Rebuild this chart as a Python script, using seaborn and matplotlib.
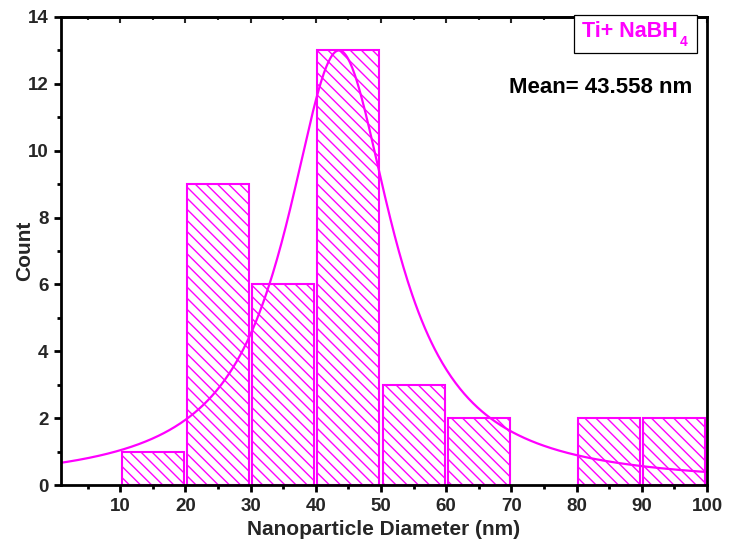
import numpy as np
import pandas as pd
import matplotlib
matplotlib.use("Agg")
import matplotlib.pyplot as plt
import seaborn as sns
from matplotlib.ticker import MultipleLocator
from matplotlib.patches import Rectangle

# Particle size histogram (nm) and Lorentzian fit
bin_edges = [10, 20, 30, 40, 50, 60, 70, 80, 90, 100]
counts = [1, 9, 6, 13, 3, 2, 0, 2, 2]
fit_center = 43.558   # nm
fit_height = 13.0
fit_hwhm = 9.9

MAGENTA = "#ff00ff"

sns.set_theme(style="ticks")
plt.rcParams["font.family"] = ["Liberation Sans", "DejaVu Sans"]
plt.rcParams["font.weight"] = "bold"
plt.rcParams["hatch.linewidth"] = 1.0
plt.rcParams["hatch.color"] = MAGENTA

fig = plt.figure(figsize=(7.4, 5.46), dpi=100)
ax = fig.add_axes([0.0824, 0.1117, 0.8730, 0.8572])

centers = [(a + b) / 2 for a, b in zip(bin_edges[:-1], bin_edges[1:])]
df = pd.DataFrame({"diameter": centers, "count": counts})
sns.histplot(data=df, x="diameter", weights="count", bins=bin_edges,
             shrink=0.95, ax=ax, color=MAGENTA, linewidth=1.5)
for p in ax.patches:
    p.set_facecolor("white")
    p.set_edgecolor(MAGENTA)
    p.set_hatch("\\\\\\")
    p.set_linewidth(1.5)
    if p.get_height() == 0:
        p.set_visible(False)

# Lorentzian fit curve
xf = np.linspace(0, 100, 600)
yf = fit_height / (1 + ((xf - fit_center) / fit_hwhm) ** 2)
sns.lineplot(x=xf, y=yf, ax=ax, color=MAGENTA, linewidth=1.6)

ax.set_xlim(0.9, 100)
ax.set_ylim(0, 14)
ax.set_xticks(range(10, 101, 10))
ax.xaxis.set_minor_locator(MultipleLocator(5))
ax.yaxis.set_major_locator(MultipleLocator(2))
ax.yaxis.set_minor_locator(MultipleLocator(1))

for s in ax.spines.values():
    s.set_visible(True)
    s.set_linewidth(2)
    s.set_color("black")

ax.tick_params(which="major", direction="out", length=5, width=2,
               labelsize=13.5, color="black", pad=4)
ax.tick_params(which="minor", direction="out", length=3, width=2, color="black")
ax.tick_params(which="both", top=False, right=False)
for t in ax.get_xticklabels() + ax.get_yticklabels():
    t.set_fontweight("bold")

# inward ticks along the top frame
top = ax.secondary_xaxis("top")
top.set_xticks(range(10, 101, 10))
top.xaxis.set_minor_locator(MultipleLocator(5))
top.tick_params(which="major", direction="in", length=4, width=1.5, labeltop=False)
top.tick_params(which="minor", direction="in", length=2.5, width=1.5)
top.spines["top"].set_linewidth(2)

ax.set_xlabel("Nanoparticle Diameter (nm)", fontsize=15, fontweight="bold")
ax.set_ylabel("Count", fontsize=15, fontweight="bold")
ax.xaxis.set_label_coords(0.5, -0.096)
ax.yaxis.set_label_coords(-0.0557, 0.5)
ax.xaxis.label.set_va("center")
ax.yaxis.label.set_va("center")

# sample label box
ax.add_patch(Rectangle((0.794, 0.923), 0.191, 0.081, transform=ax.transAxes,
                       fc="white", ec="black", lw=0.9, clip_on=False, zorder=5))
ax.text(0.955, 0.970, "Ti+ NaBH", transform=ax.transAxes,
        ha="right", va="center", color=MAGENTA, fontsize=15.5, fontweight="bold",
        zorder=6)
ax.text(0.958, 0.9466, "4", transform=ax.transAxes,
        ha="left", va="center", color=MAGENTA, fontsize=10, fontweight="bold",
        zorder=6)
ax.text(0.977, 0.850, f"Mean= {fit_center:.3f} nm", transform=ax.transAxes,
        ha="right", va="center", color="black", fontsize=16, fontweight="bold")

fig.savefig("out.png", dpi=100)
